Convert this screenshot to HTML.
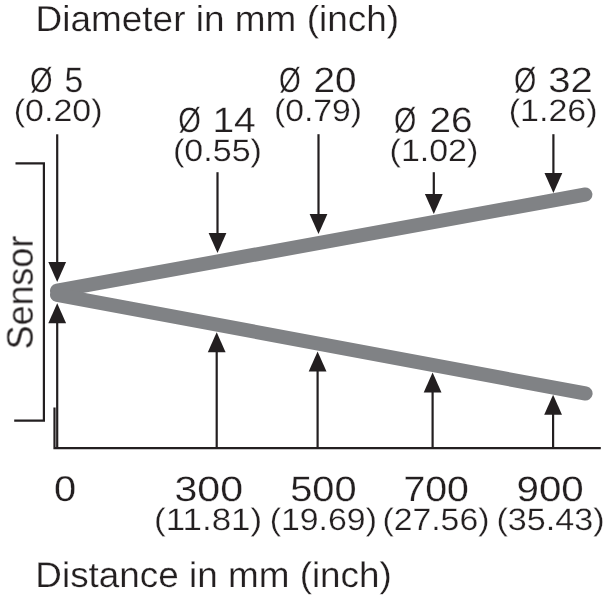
<!DOCTYPE html>
<html lang="en"><head><meta charset="utf-8"><title>Diameter vs distance</title>
<style>
html,body{margin:0;padding:0;background:#fff;}
svg{display:block;}
text{font-family:"Liberation Sans",sans-serif;fill:#231f20;stroke:#fff;stroke-width:0.25;text-rendering:geometricPrecision;}
.tx{will-change:transform;}
.ln line,.ln polyline{stroke:#231f20;stroke-width:2.2;fill:none;}
.ln polygon{fill:#231f20;stroke:none;}
.beam line{stroke:#808285;stroke-width:14;stroke-linecap:round;}
</style></head><body>
<svg width="605" height="600" viewBox="0 0 605 600">
<rect width="605" height="600" fill="#fff"/>
<g class="beam">
<line x1="57" y1="290.7" x2="585.4" y2="194.5"/>
<line x1="57" y1="294.8" x2="585.6" y2="393.5"/>
</g>
<g class="ln">
<polyline points="15.5,163.3 43.9,163.3 43.9,420.7 14.2,420.7"/>
<polyline points="54.5,407.5 54.5,448.1 600.8,448.1"/>
<line x1="57.2" y1="134.3" x2="57.2" y2="262.9"/>
<polygon points="48.3,261.9 66.1,261.9 57.2,281.9"/>
<line x1="57.2" y1="448.1" x2="57.2" y2="322.3"/>
<polygon points="48.3,323.3 66.1,323.3 57.2,303.3"/>
<line x1="217.5" y1="172.2" x2="217.5" y2="234.0"/>
<polygon points="208.6,233.0 226.4,233.0 217.5,253.0"/>
<line x1="216.7" y1="448.1" x2="216.7" y2="351.3"/>
<polygon points="207.8,352.3 225.6,352.3 216.7,332.3"/>
<line x1="318.5" y1="134.2" x2="318.5" y2="215.0"/>
<polygon points="309.6,214.0 327.4,214.0 318.5,234.0"/>
<line x1="317.6" y1="448.1" x2="317.6" y2="370.4"/>
<polygon points="308.7,371.4 326.5,371.4 317.6,351.4"/>
<line x1="433.8" y1="172.2" x2="433.8" y2="194.9"/>
<polygon points="424.9,193.9 442.7,193.9 433.8,213.9"/>
<line x1="432.6" y1="448.1" x2="432.6" y2="391.6"/>
<polygon points="423.7,392.6 441.5,392.6 432.6,372.6"/>
<line x1="553.4" y1="134.2" x2="553.4" y2="174.0"/>
<polygon points="544.5,173.0 562.3,173.0 553.4,193.0"/>
<line x1="553.1" y1="448.1" x2="553.1" y2="413.8"/>
<polygon points="544.2,414.8 562.0,414.8 553.1,394.8"/>
</g>
<g class="tx">
<text transform="translate(35.55,31.00) scale(1.0267,1)" font-size="36.0">Diameter in mm (inch)</text>
<text transform="translate(29.88,91.70) scale(0.8231,1)" font-size="35.2">Ø</text>
<text transform="translate(64.44,91.70) scale(0.9611,1)" font-size="35.2">5</text>
<text transform="translate(13.80,120.60) scale(1.0994,1)" font-size="30.9">(0.20)</text>
<text transform="translate(178.27,131.60) scale(0.8269,1)" font-size="35.2">Ø</text>
<text transform="translate(212.39,131.60) scale(1.1075,1)" font-size="35.2">14</text>
<text transform="translate(173.00,160.50) scale(1.1019,1)" font-size="30.9">(0.55)</text>
<text transform="translate(279.10,91.70) scale(0.7962,1)" font-size="35.2">Ø</text>
<text transform="translate(313.50,91.70) scale(1.1020,1)" font-size="35.2">20</text>
<text transform="translate(273.91,120.60) scale(1.0930,1)" font-size="30.9">(0.79)</text>
<text transform="translate(394.08,131.60) scale(0.8154,1)" font-size="35.2">Ø</text>
<text transform="translate(429.40,131.60) scale(1.0993,1)" font-size="35.2">26</text>
<text transform="translate(389.60,160.60) scale(1.0994,1)" font-size="30.9">(1.02)</text>
<text transform="translate(514.08,91.70) scale(0.8154,1)" font-size="35.2">Ø</text>
<text transform="translate(548.16,91.70) scale(1.1403,1)" font-size="35.2">32</text>
<text transform="translate(508.80,120.60) scale(1.0994,1)" font-size="30.9">(1.26)</text>
<text transform="translate(54.09,501.20) scale(1.1111,1)" font-size="35.8">0</text>
<text transform="translate(174.43,501.30) scale(1.1691,1)" font-size="35.2">300</text>
<text transform="translate(154.07,530.30) scale(1.1308,1)" font-size="30.9">(11.81)</text>
<text transform="translate(290.17,501.30) scale(1.1306,1)" font-size="35.2">500</text>
<text transform="translate(269.70,530.30) scale(1.0953,1)" font-size="30.9">(19.69)</text>
<text transform="translate(403.38,501.30) scale(1.1166,1)" font-size="35.2">700</text>
<text transform="translate(382.41,530.30) scale(1.0932,1)" font-size="30.9">(27.56)</text>
<text transform="translate(516.45,501.30) scale(1.1463,1)" font-size="35.2">900</text>
<text transform="translate(496.50,530.30) scale(1.1047,1)" font-size="30.9">(35.43)</text>
<text transform="translate(35.33,586.50) scale(1.0363,1)" font-size="35.6">Distance in mm (inch)</text>
<text transform="translate(32.60,349.47) rotate(-90) scale(0.9706,1)" font-size="37.0">Sensor</text>
</g>
</svg>
</body></html>
